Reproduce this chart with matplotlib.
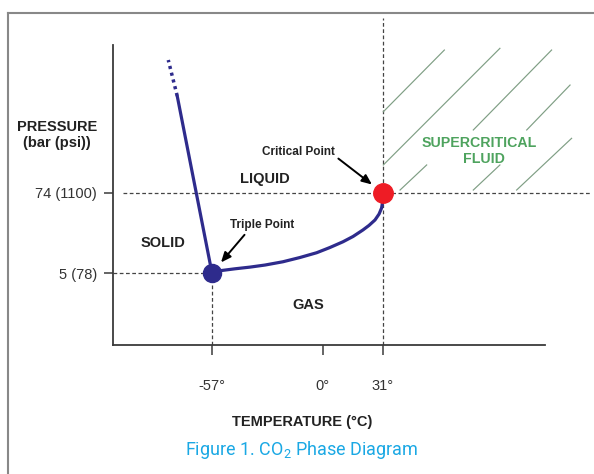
import matplotlib.pyplot as plt
from matplotlib.lines import Line2D

# CO2 phase diagram (schematic): temperature in degC, pressure in bar on a log axis
triple_point = (-57, 5)
critical_point = (31, 74)

# vaporisation curve, triple point -> critical point
vap_temp = [-57, -52.9, -45.2, -37.4, -29.7, -20.5, -11.7, -3.1, 3.7, 10.4,
            15.6, 20.7, 23.8, 26.9, 29.0, 30.3, 30.9, 31]
vap_pres = [5, 5.4, 5.76, 6.1, 6.54, 7.3, 8.43, 9.9, 11.8, 14.3,
            17.1, 21.3, 24.8, 29.8, 36.4, 44.6, 56.5, 74]

# melting line, solid part then dotted continuation
melt_temp = [-57, -74.9]
melt_pres = [5, 1940]
melt_ext_temp = [-74.9, -79.5]
melt_ext_pres = [1940, 6500]

x_ticks = [-57, 0, 31]
x_ticklabels = ['-57°', '0°', '31°']
y_ticks = [5, 74]
y_ticklabels = ['5 (78)', '74 (1100)']

# diagonal strokes in the supercritical region: (T0, P0, T1, P1)
hatch_segments = [
    (31.2, 1140, 62.6, 9100),
    (31.2, 190, 91.2, 9640),
    (77.5, 617, 117.8, 9100),
    (105.0, 617, 127.3, 2800),
    (39.8, 81.7, 53.5, 190),
    (77.5, 81.7, 91.2, 190),
    (99.8, 81.7, 128.1, 466),
]

# region labels: text, T, P
region_labels = [
    ('SOLID', -82.2, 13.7),
    ('LIQUID', -29.7, 118),
    ('GAS', -7.6, 1.70),
]
super_labels = [('SUPERCRITICAL', 80.4, 398), ('FLUID', 83.0, 232)]

curve_col = '#2e2b8c'
dash_col = '#444444'
green = '#4ea35e'

plt.rcParams['font.family'] = ['Liberation Sans', 'DejaVu Sans']
plt.rcParams['mathtext.fontset'] = 'custom'
plt.rcParams['mathtext.rm'] = 'Roboto'

fig = plt.figure(figsize=(5.94, 4.74), dpi=100)
W, H = 594, 474
ax = fig.add_axes([113 / W, 1 - 345 / H, (592 - 113) / W, (345 - 15) / H])
ax.set_yscale('log')
ax.set_xlim(-107.95, 138.6)
ax.set_ylim(0.443, 29600)

for s in ['top', 'right']:
    ax.spines[s].set_visible(False)
for s in ['left', 'bottom']:
    ax.spines[s].set_color('#3a3a3a')
    ax.spines[s].set_linewidth(1.3)
ax.spines['left'].set_bounds(0.443, 10770)
ax.spines['bottom'].set_bounds(-107.95, 114.4)

ax.set_xticks(x_ticks)
ax.set_xticklabels(x_ticklabels)
ax.set_yticks(y_ticks)
ax.set_yticklabels(y_ticklabels)
ax.yaxis.set_minor_locator(plt.NullLocator())
ax.tick_params(axis='x', length=7.5, width=1.1, color='#3a3a3a', pad=17,
               labelsize=10.5, labelcolor='#333333')
ax.tick_params(axis='y', length=6.5, width=1.1, color='#3a3a3a', pad=5,
               labelsize=10.5, labelcolor='#333333')

# dashed guide lines
dash = dict(color=dash_col, lw=0.9, ls=(0, (3, 2)))
ax.plot([ax.get_xlim()[0], triple_point[0]], [5, 5], **dash)
ax.plot([triple_point[0], triple_point[0]], [ax.get_ylim()[0], 5], **dash)
ax.axhline(74, xmin=0.02, xmax=1, **dash)
ax.axvline(31, ymin=0, ymax=0.99, **dash)

# supercritical hatch strokes
for t0, p0, t1, p1 in hatch_segments:
    ax.plot([t0, t1], [p0, p1], color='#7f9e84', lw=0.85)

# phase boundaries
ax.plot(vap_temp, vap_pres, color=curve_col, lw=2.3, solid_capstyle='round',
        solid_joinstyle='round')
ax.plot(melt_temp, melt_pres, color=curve_col, lw=2.3, solid_capstyle='round')
ax.plot(melt_ext_temp, melt_ext_pres, color=curve_col, lw=2.5,
        ls=(0, (0.9, 1.1)), dash_capstyle='butt')

ax.plot(*triple_point, 'o', color=curve_col, ms=13, zorder=5)
ax.plot(*critical_point, 'o', color='#ee1c25', ms=14, zorder=5)

for txt, t, p in region_labels:
    ax.text(t, p, txt, ha='center', va='center', fontsize=10.5,
            fontweight='bold', color='#222222')
for txt, t, p in super_labels:
    ax.text(t, p, txt, ha='center', va='center', fontsize=10.2,
            fontweight='bold', color=green)

arrow = dict(arrowstyle='-|>,head_length=0.7,head_width=0.3', color='black',
             lw=1.4, shrinkA=1, shrinkB=10)
ax.annotate('Critical Point', xy=critical_point, xytext=(-12.7, 294),
            ha='center', va='center', fontsize=8.5, fontweight='bold',
            color='#222222', arrowprops=dict(relpos=(1.0, 0.2), **arrow))
ax.annotate('Triple Point', xy=triple_point, xytext=(-31.3, 25.2),
            ha='center', va='center', fontsize=8.5, fontweight='bold',
            color='#222222', arrowprops=dict(relpos=(0.28, 0.0), **arrow))

# axis titles
fig.text(57 / W, 1 - 135 / H, 'PRESSURE\n(bar (psi))', ha='center', va='center',
         fontsize=10.5, fontweight='bold', color='#222222', linespacing=1.15)
fig.text(302 / W, 1 - 422 / H, 'TEMPERATURE (°C)', ha='center', va='center',
         fontsize=10.5, fontweight='bold', color='#222222')
fig.text(302 / W, 1 - 450 / H, 'Figure 1. CO$_2$ Phase Diagram', ha='center',
         va='center', fontsize=13, color='#1aa8e4', family='Roboto')

# outer frame (left and top edges)
fig.add_artist(Line2D([8 / W, 8 / W], [0, 1 - 13 / H], color='#888888', lw=1.5))
fig.add_artist(Line2D([8 / W, 1], [1 - 13 / H, 1 - 13 / H], color='#888888', lw=1.5))

fig.savefig('out.png', dpi=100)
